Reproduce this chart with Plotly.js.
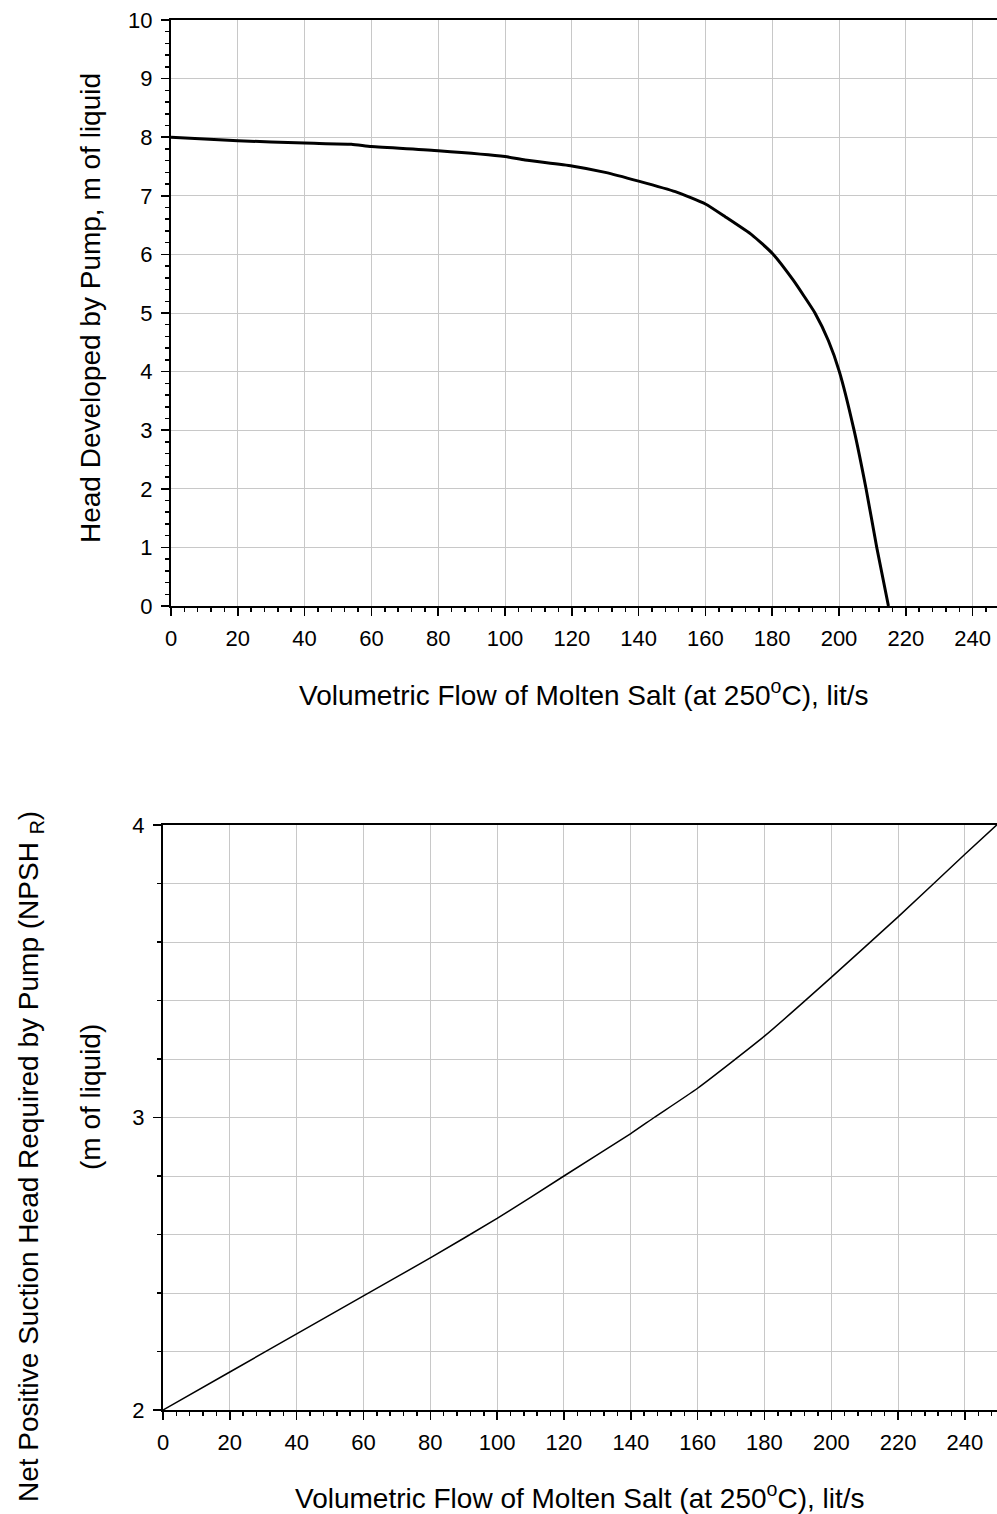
<!DOCTYPE html>
<html><head><meta charset="utf-8">
<script src="https://cdn.plot.ly/plotly-3.0.1.min.js"></script>
<style>html,body{margin:0;padding:0;background:#fff}#chart{width:997px;height:1514px}</style>
</head><body><div id="chart"></div>
<script>
// Pump head curve
const headFlow = [0,20,40,54,60,80,100,106,120,130,140,151,160,166,174,180,186.3,189.5,192.8,196.8,200.1,204.5,208.1,211.3,214.8];
const headValue = [8.00,7.94,7.90,7.88,7.84,7.77,7.67,7.61,7.51,7.40,7.25,7.07,6.86,6.64,6.33,6.02,5.56,5.29,5.00,4.53,4.00,3.00,2.00,1.00,0.00];
// NPSH required curve
const npshFlow = [0,20,40,60,80,100,120,140,147,160,180,200,220,240,249.5];
const npshValue = [2.00,2.13,2.26,2.39,2.52,2.655,2.80,2.945,3.00,3.10,3.278,3.479,3.686,3.90,4.00];

const xTitle = 'Volumetric Flow of Molten Salt (at 250<sup>o</sup>C), lit/s';
const yTitleTop = 'Head Developed by Pump, m of liquid';
const yTitleBot1 = 'Net Positive Suction Head Required by Pump (NPSH <sub>R</sub>)';
const yTitleBot2 = '(m of liquid)';

const FONT = 'Liberation Sans, Arial, sans-serif';
const TF = 22;
const TTF = 28;
const grid = '#c8c8c8';

const L = 163, T = 20, B = 1410, W = 997;
const px = v => (v - L) / (W - L);
const py = v => (B - v) / (B - T);

const traces = [
  {x: headFlow, y: headValue, xaxis:'x', yaxis:'y', mode:'lines', line:{color:'#000', width:3, shape:'spline', smoothing:0.5}, hoverinfo:'x+y'},
  {x: npshFlow, y: npshValue, xaxis:'x2', yaxis:'y2', mode:'lines', line:{color:'#000', width:1.5, shape:'spline', smoothing:0.5}, hoverinfo:'x+y'}
];

const xCommon = {
  dtick:20, tick0:0, ticks:'outside', ticklen:8, tickwidth:1.5, tickcolor:'#000',
  showline:true, linecolor:'#000', linewidth:2, mirror:true,
  showgrid:true, gridcolor:grid, gridwidth:1, zeroline:false,
  tickfont:{family:FONT, size:TF, color:'#000'}, ticklabelstandoff:4,
  minor:{dtick:4, ticks:'outside', ticklen:4, tickwidth:1.5, tickcolor:'#000', showgrid:false}
};

const layout = {
  width:997, height:1514, showlegend:false,
  paper_bgcolor:'#fff', plot_bgcolor:'#fff',
  margin:{l:L, r:0, t:T, b:1514-B},
  font:{family:FONT, color:'#000'},
  xaxis: Object.assign({}, xCommon, {domain:[px(171),1], range:[0,247.3], anchor:'y'}),
  yaxis: {domain:[py(606),1], range:[0,10], dtick:1, anchor:'x',
    ticks:'outside', ticklen:8, tickwidth:1.5, tickcolor:'#000',
    showline:true, linecolor:'#000', linewidth:2,
    showgrid:true, gridcolor:grid, zeroline:false,
    tickfont:{family:FONT, size:TF, color:'#000'}, ticklabelstandoff:4,
    minor:{dtick:0.2, ticks:'outside', ticklen:4, tickwidth:1.5, tickcolor:'#000', showgrid:false}},
  xaxis2: Object.assign({}, xCommon, {domain:[0,1], range:[0,249.6], anchor:'y2'}),
  yaxis2: {domain:[0,py(825)], range:[2,4], dtick:1, anchor:'x2',
    ticks:'outside', ticklen:8, tickwidth:1.5, tickcolor:'#000',
    showline:true, linecolor:'#000', linewidth:2,
    showgrid:true, gridcolor:grid, zeroline:false,
    tickfont:{family:FONT, size:TF, color:'#000'}, ticklabelstandoff:4,
    minor:{dtick:0.2, ticks:'outside', ticklen:4, tickwidth:1.5, tickcolor:'#000', showgrid:true, gridcolor:grid, gridwidth:1}},
  annotations: [
    {text:xTitle, xref:'paper', yref:'paper', x:px(584), y:py(693), xanchor:'center', yanchor:'middle', showarrow:false, font:{family:FONT, size:TTF, color:'#000'}},
    {text:xTitle, xref:'paper', yref:'paper', x:px(580), y:py(1496), xanchor:'center', yanchor:'middle', showarrow:false, font:{family:FONT, size:TTF, color:'#000'}},
    {text:yTitleTop, xref:'paper', yref:'paper', x:px(90), y:py(308), xanchor:'center', yanchor:'middle', textangle:-90, showarrow:false, font:{family:FONT, size:TTF, color:'#000'}},
    {text:yTitleBot1, xref:'paper', yref:'paper', x:px(30), y:py(1157), xanchor:'center', yanchor:'middle', textangle:-90, showarrow:false, font:{family:FONT, size:TTF, color:'#000'}},
    {text:yTitleBot2, xref:'paper', yref:'paper', x:px(90), y:py(1097), xanchor:'center', yanchor:'middle', textangle:-90, showarrow:false, font:{family:FONT, size:TTF, color:'#000'}}
  ]
};

Plotly.newPlot('chart', traces, layout, {displayModeBar:false, staticPlot:true});
</script></body></html>
